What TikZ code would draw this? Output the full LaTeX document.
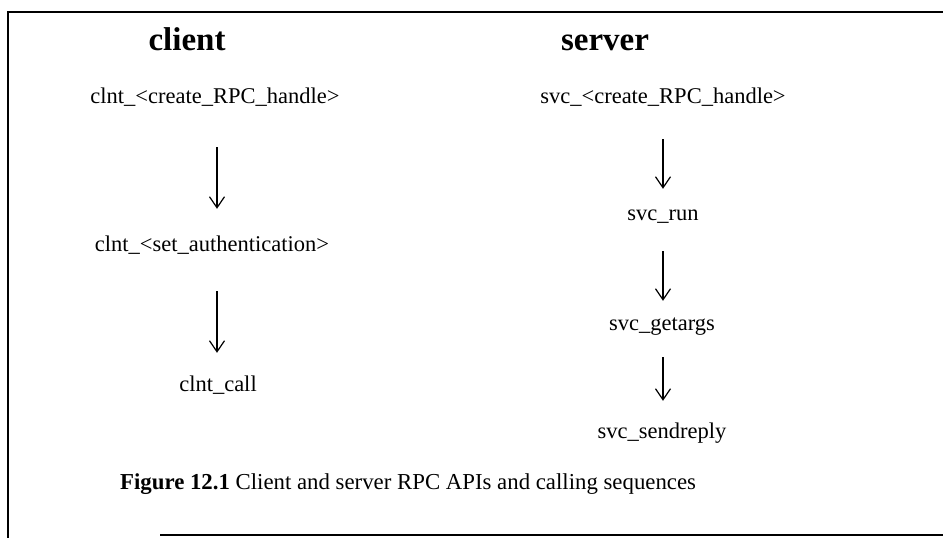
\documentclass[tikz,border=0pt]{standalone}
\usepackage{fontspec}
\setmainfont{Liberation Serif}
\usetikzlibrary{arrows.meta}
\begin{document}
\begin{tikzpicture}[x=1pt,y=-1pt,
  lbl/.style={inner sep=0pt,font=\fontsize{22.5}{24}\selectfont,text height=15pt,text depth=5pt},
  head/.style={inner sep=0pt,font=\fontsize{33}{36}\selectfont\bfseries,text height=22pt,text depth=1pt},
  arr/.style={line width=1.2pt,-{Straight Barb[length=11pt,width=15pt,line width=1.2pt]}},
  frame/.style={line width=2pt}]
\useasboundingbox (0,0) rectangle (943,538);
% frame
\coordinate (tl) at (8,12);
\coordinate (tr) at (943,12);
\coordinate (bl) at (8,538);
\coordinate (bs) at (160,535);
\coordinate (br) at (943,535);
\draw[frame] (bl) -- (tl) -- (tr);
\draw[frame] (bs) -- (br);
% headings
\node[head] (hc) at (187,40) {client};
\node[head] (hs) at (605,40) {server};
% client column
\node[lbl] (c1) at (215,98) {clnt\_<create\_RPC\_handle>};
\node[lbl] (c2) at (212,246) {clnt\_<set\_authentication>};
\node[lbl] (c3) at (218,386) {clnt\_call};
% server column
\node[lbl] (s1) at (663,98) {svc\_<create\_RPC\_handle>};
\node[lbl] (s2) at (663,215) {svc\_run};
\node[lbl] (s3) at (662,325) {svc\_getargs};
\node[lbl] (s4) at (662,433) {svc\_sendreply};
% arrows
\draw[arr,shorten <=39pt,shorten >=27pt] ([xshift=2pt]c1.south) -- ([xshift=2pt]c1.south |- c2.north);
\draw[arr,shorten <=35pt,shorten >=23pt] ([xshift=2pt]c1.south |- c2.south) -- ([xshift=2pt]c1.south |- c3.north);
\draw[arr,shorten <=31pt,shorten >=16pt] (s1.south) -- (s1.south |- s2.north);
\draw[arr,shorten <=26pt,shorten >=14pt] (s1.south |- s2.south) -- (s1.south |- s3.north);
\draw[arr,shorten <=22pt,shorten >=22pt] (s1.south |- s3.south) -- (s1.south |- s4.north);
% caption
\node[lbl,anchor=west,font=\fontsize{22.8}{24}\selectfont] (cap) at (120,484) {\textbf{Figure 12.1} Client and server RPC APIs and calling sequences};
\end{tikzpicture}
\end{document}
